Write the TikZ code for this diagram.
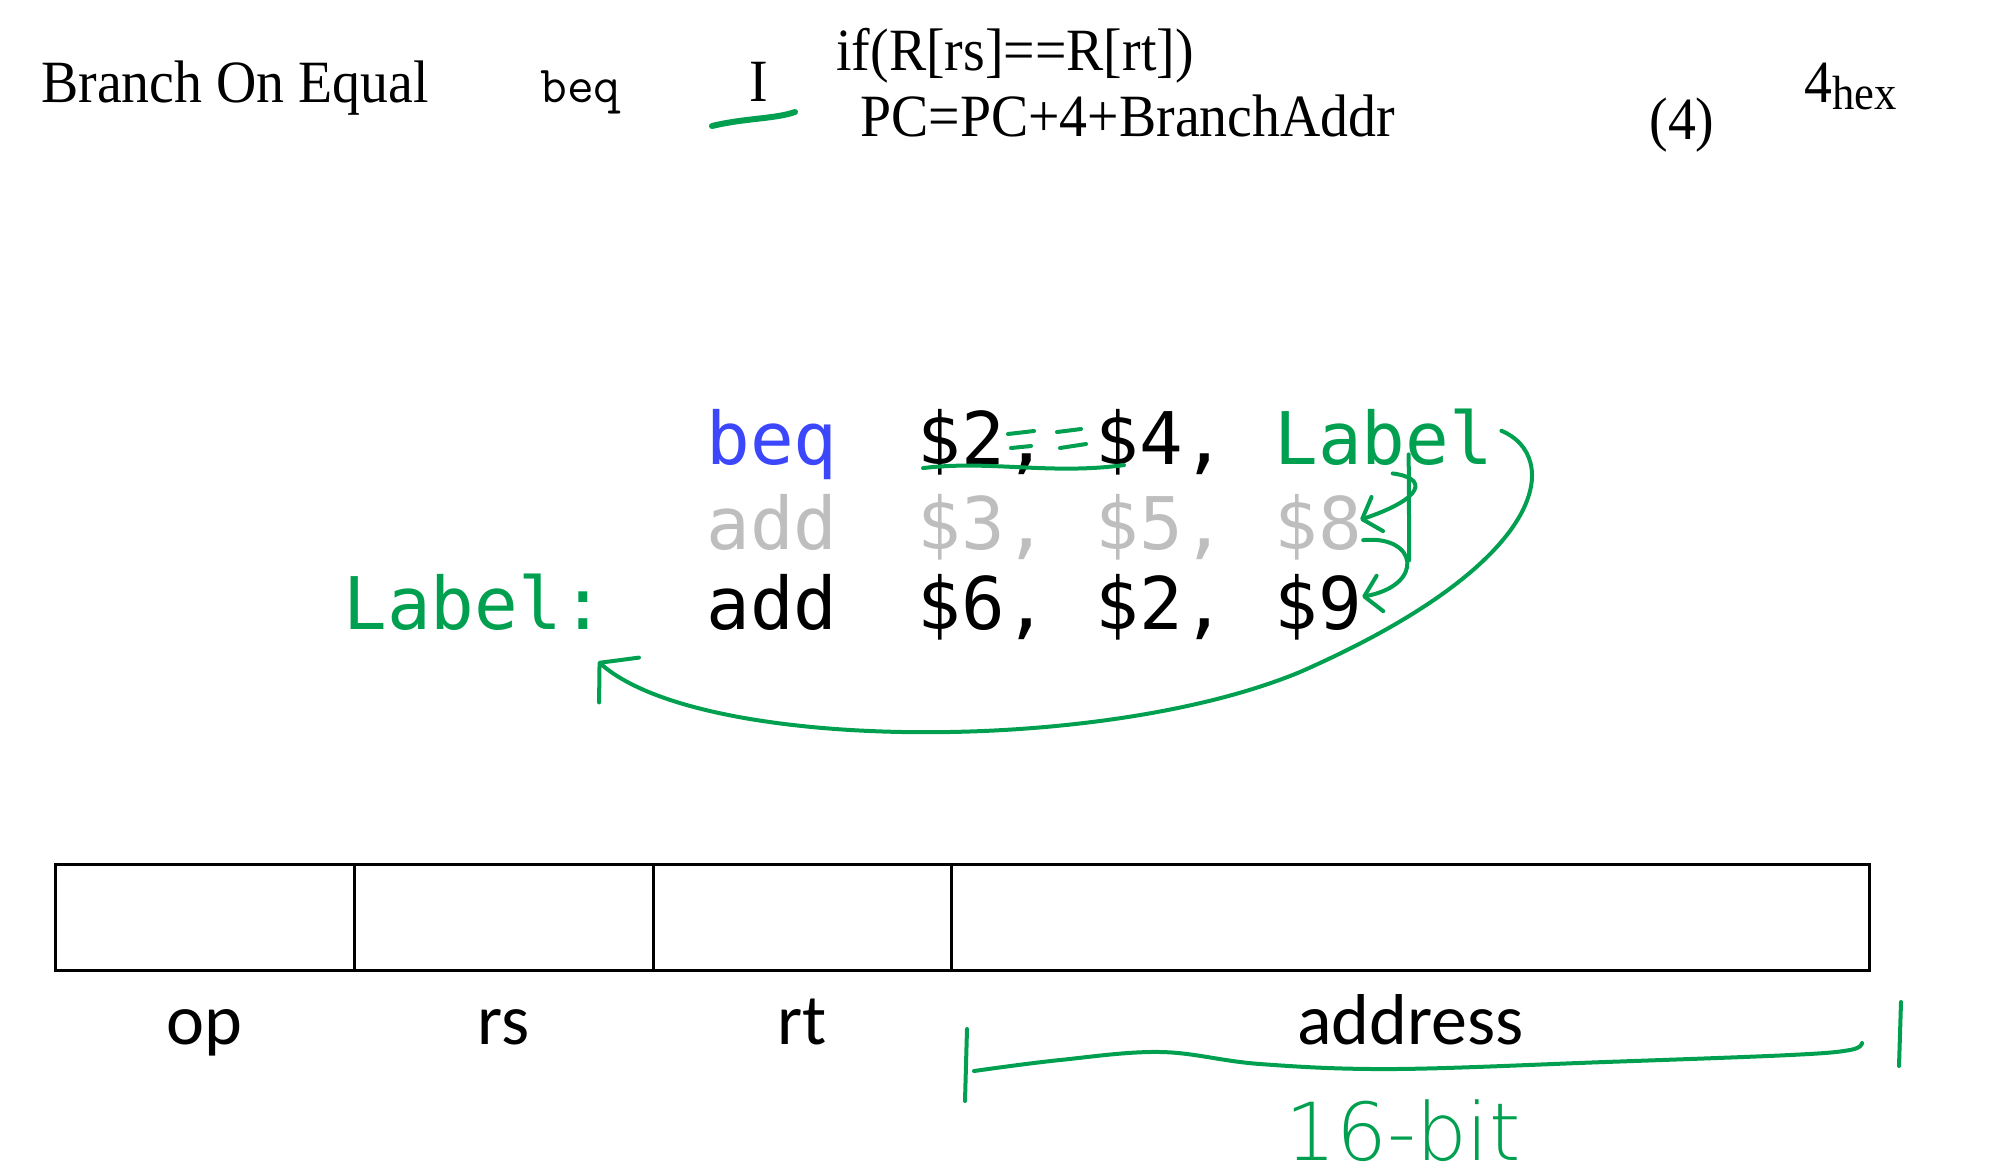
\documentclass[tikz,border=0pt]{standalone}
\usepackage{fontspec}
\usetikzlibrary{arrows.meta,positioning,calc}
\newfontfamily\instrfont{Liberation Serif}[FakeStretch=0.93]
\newfontfamily\codefont{DejaVu Sans Mono}
\newfontfamily\fieldfont{Carlito}
\newfontfamily\handfont{DejaVu Sans ExtraLight}
\definecolor{beqblue}{RGB}{60,70,250}
\definecolor{ink}{RGB}{0,160,80}
\definecolor{faded}{RGB}{190,190,190}

\begin{document}
\begin{tikzpicture}[x=0.5pt,y=-0.5pt,instr/.style={anchor=base west,inner sep=0pt,font=\instrfont\fontsize{30pt}{32pt}\selectfont},code/.style={anchor=base west,inner sep=0pt,font=\codefont\fontsize{36.3pt}{40pt}\selectfont},codeG/.style={code,text=faded},codeL/.style={code,text=ink},cell/.style={draw,line width=1.5pt,anchor=north west,minimum height=53pt,inner sep=0pt,outer sep=0pt},fieldlbl/.style={anchor=base,inner sep=0pt,font=\fieldfont\fontsize{36pt}{40pt}\selectfont},pen/.style={draw=ink,line width=2pt,line cap=round,line join=round},penarrow/.style={pen,-{Straight Barb[length=8pt,width=18pt,round]}}]
\def\xc{706}
\def\cola{917}
\def\colb{1095}
\def\colc{1274}
\def\ya{464}
\def\yb{549}
\def\yc{629}

\useasboundingbox (0,0) rectangle (1992,1175);

% reference card row
\node[instr] (name) at (41,102) {Branch On Equal};
\node[anchor=base west,inner sep=0pt,font=\ttfamily\fontsize{26pt}{28pt}\selectfont] (mnem) at (540,102) {beq};
\node[instr,anchor=base] (fmt) at (759,101) {I};
\node[instr] (cond) at (836,70) {if(R[rs]==R[rt])};
\node[instr] (act) at (860,136) {PC=PC+4+BranchAddr};
\node[instr] (ref) at (1649,139) {(4)};
\node[instr] (opc) at (1804,102) {4{\fontsize{24pt}{26pt}\selectfont\raisebox{-3.5pt}{hex}}};
\draw[pen,line width=3pt] (712,126) .. controls (745,118) and (775,119) .. (795,112);

% code
\node[code,text=beqblue] (op1) at (\xc,\ya) {beq};
\node[code] (r1a) at (\cola,\ya) {\$2,};
\node[code] (r1b) at (\colb,\ya) {\$4,};
\node[codeL] (lab1) at (\colc,\ya) {Label};

\node[codeG] (op2) at (\xc,\yb) {add};
\node[codeG] (r2a) at (\cola,\yb) {\$3,};
\node[codeG] (r2b) at (\colb,\yb) {\$5,};
\node[codeG] (r2c) at (\colc,\yb) {\$8};

\node[codeL] (lab3) at (343,\yc) {Label:};
\node[code] (op3) at (\xc,\yc) {add};
\node[code] (r3a) at (\cola,\yc) {\$6,};
\node[code] (r3b) at (\colb,\yc) {\$2,};
\node[code] (r3c) at (\colc,\yc) {\$9};

% ink on the code
\foreach \sx/\sy/\ex/\ey in {1008/434/1034/431,1011/448/1031/446,1057/432/1081/429,1060/448/1086/444}
  \draw[pen] (\sx,\sy) -- (\ex,\ey);
\draw[pen] ($(r1a.south west)+(6,-7)$) .. controls (990,460) and (1050,475) .. ($(r1b.south west)+(29,-10)$);
\draw[pen] ($(lab1.south)+(25,-11)$) -- ($(r2c.south east)+(47,0)$);
\draw[penarrow] ($(lab1.south)+(9,8)$) .. controls (1428,478) and (1425,498) .. ($(r2c.east)+(-2,-7)$);
\draw[penarrow] ($(r2c.south east)+(1,-20)$) .. controls (1418,535) and (1425,585) .. ($(r3c.east)+(0,-10)$);
\draw[pen,-{Straight Barb[length=13pt,width=30pt,round]}] ($(lab1.east)+(8,-6)$) .. controls (1560,455) and (1555,560) .. (1300,672) .. controls (1100,755) and (700,752) .. ($(lab3.south east)+(-8,31)$);

% instruction fields
\node[cell,minimum width=149.75pt] (fop) at (55,864) {};
\node[cell,minimum width=149.25pt,right=0pt of fop] (frs) {};
\node[cell,minimum width=149.25pt,right=0pt of frs] (frt) {};
\node[cell,minimum width=458.75pt,right=0pt of frt] (faddr) {};

\node[fieldlbl,below=37pt of fop.south,anchor=base] (lop) {op};
\node[fieldlbl,below=37pt of frs.south,anchor=base] (lrs) {rs};
\node[fieldlbl,below=37pt of frt.south,anchor=base] (lrt) {rt};
\node[fieldlbl,below=37pt of faddr.south,anchor=base] (laddr) {address};

% ink on the address field
\draw[pen] ($(faddr.south west)+(15.5,59)$) -- ($(faddr.south west)+(13.5,131)$);
\draw[pen] plot[smooth,tension=0.6] coordinates {(974,1071) (1060,1060) (1161,1052) (1260,1064) (1394,1069) (1605,1062) (1790,1055) (1850,1050) (1862,1043)};
\draw[pen] (1901,1002) -- (1899,1066);
\node[text=ink,inner sep=0pt,font=\handfont\fontsize{40pt}{42pt}\selectfont] (addrbits) at (1403,1131) {16-bit};
\end{tikzpicture}
\end{document}
